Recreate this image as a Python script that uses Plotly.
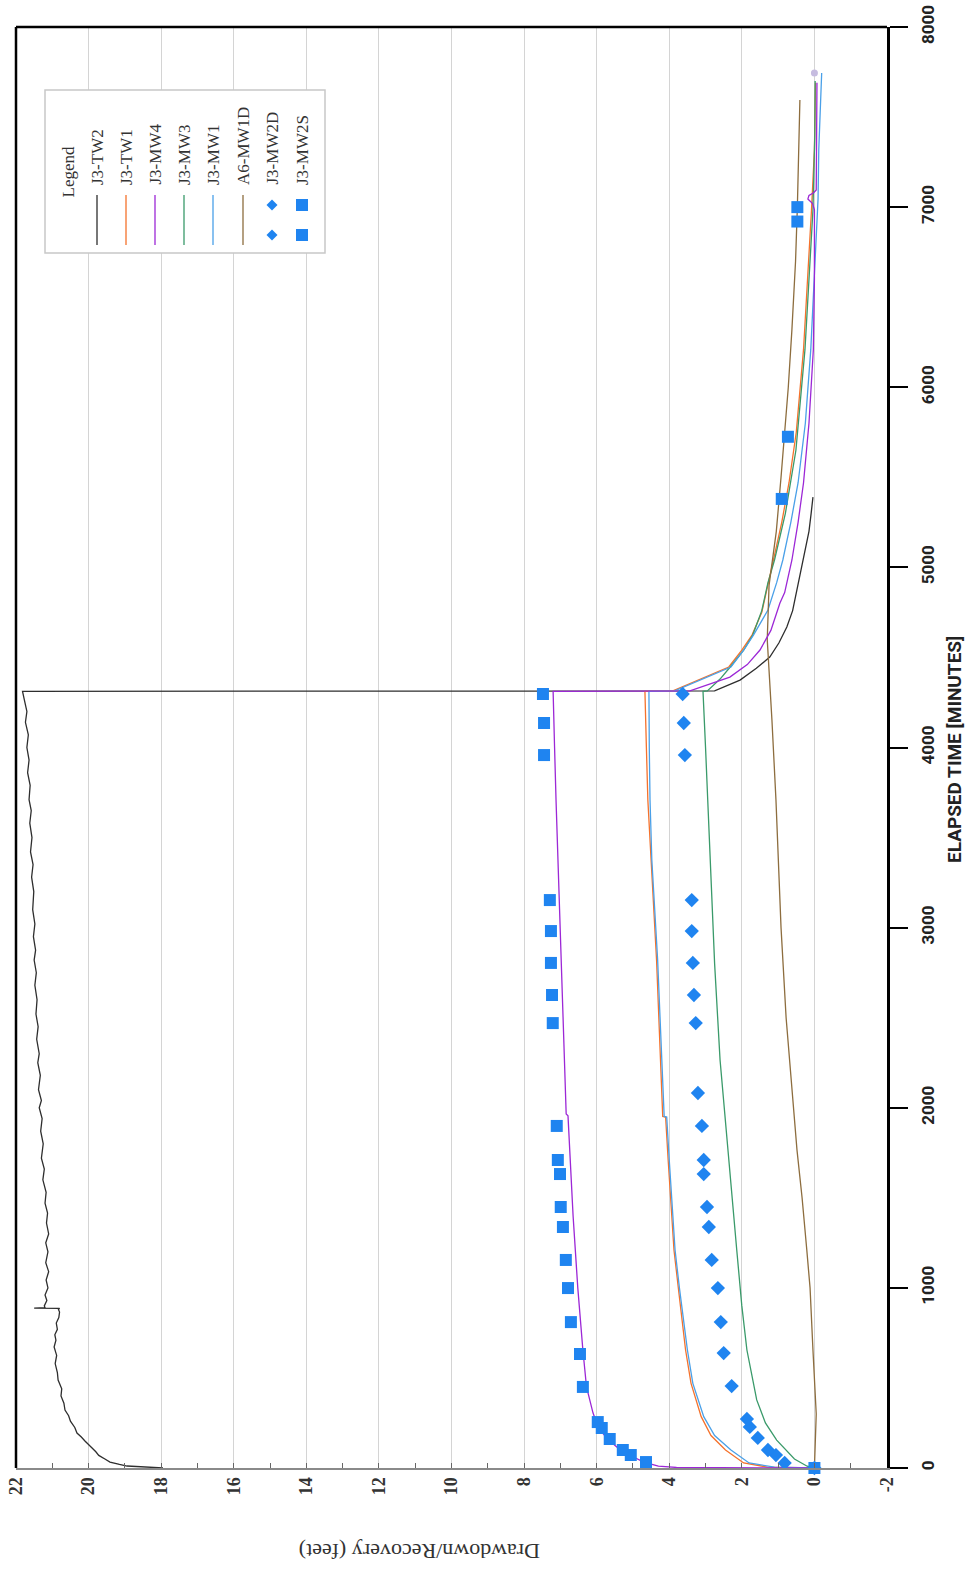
import plotly.graph_objects as go

# ---------------- data (time in minutes, drawdown in feet) ----------------
tw2_t = [0, 5, 11, 20, 33, 50, 70, 90, 110, 130, 150, 172, 194, 225, 260, 290, 322, 360, 400, 440,
         488, 530, 580, 625, 672, 710, 740, 770, 805, 835, 866, 880, 886, 888, 890, 900, 930, 960,
         1000, 1044, 1090, 1140, 1200, 1250, 1300, 1360, 1415, 1470, 1530, 1600, 1660, 1720, 1800,
         1870, 1940, 2000, 2040, 2100, 2180, 2250, 2300, 2380, 2450, 2520, 2600, 2680, 2750, 2820,
         2875, 2950, 3020, 3100, 3200, 3280, 3350, 3420, 3500, 3580, 3650, 3710, 3790, 3860, 3930,
         4000, 4070, 4140, 4200, 4265, 4300, 4312, 4314, 4374, 4440, 4502, 4580, 4669, 4760, 4857,
         4950, 5041, 5120, 5200, 5300, 5390]
tw2_dd = [17.95, 18.5, 18.94, 19.15, 19.41, 19.55, 19.72, 19.8, 19.9, 20.02, 20.1, 20.2, 20.32, 20.38,
          20.5, 20.55, 20.65, 20.68, 20.76, 20.74, 20.84, 20.86, 20.92, 20.88, 20.95, 20.9, 20.93,
          20.86, 20.89, 20.82, 20.8, 20.83, 20.8, 21.5, 21.2, 21.22, 21.15, 21.2, 21.12, 21.17, 21.1,
          21.18, 21.12, 21.18, 21.1, 21.16, 21.13, 21.2, 21.17, 21.26, 21.22, 21.3, 21.25, 21.32,
          21.28, 21.36, 21.3, 21.38, 21.33, 21.4, 21.36, 21.43, 21.39, 21.45, 21.42, 21.48, 21.44,
          21.5, 21.46, 21.52, 21.48, 21.54, 21.51, 21.57, 21.53, 21.6, 21.56, 21.62, 21.58, 21.64,
          21.61, 21.68, 21.64, 21.7, 21.66, 21.74, 21.7, 21.77, 21.8, 21.82, 2.75, 2.05, 1.6, 1.23,
          0.98, 0.76, 0.6, 0.5, 0.4, 0.3, 0.22, 0.15, 0.09, 0.04]

tw1_t = [0, 5, 28, 100, 180, 285, 470, 655, 1000, 1210, 1710, 1948, 1952, 2400, 2820, 3375, 3710,
         4000, 4312, 4314, 4447, 4540, 4624, 4750, 4891, 5041, 5250, 5470, 5750, 6210, 6600, 6985,
         7317, 7690]
tw1_dd = [0, 1.3, 1.95, 2.45, 2.85, 3.12, 3.4, 3.55, 3.75, 3.87, 4.03, 4.1, 4.18, 4.26, 4.35, 4.5,
          4.59, 4.63, 4.67, 3.9, 2.36, 2.0, 1.72, 1.45, 1.3, 1.12, 0.9, 0.7, 0.5, 0.3, 0.18, 0.08,
          0.0, -0.03]

mw4_t = [0, 3, 10, 33, 72, 100, 161, 222, 305, 450, 655, 1000, 1400, 1765, 1955, 1965, 2487, 3000,
         3375, 3710, 4000, 4312, 4314, 4391, 4460, 4541, 4650, 4802, 4860, 5041, 5250, 5470, 5800,
         6207, 6600, 6985, 7020, 7045, 7065, 7080, 7095, 7317, 7690]
mw4_dd = [0, 3.8, 4.3, 4.7, 5.1, 5.35, 5.7, 5.95, 6.1, 6.28, 6.38, 6.52, 6.65, 6.74, 6.79, 6.84,
          6.93, 7.0, 7.07, 7.12, 7.16, 7.2, 3.43, 2.33, 1.85, 1.5, 1.2, 0.95, 0.82, 0.62, 0.45, 0.3,
          0.15, 0.03, 0.0, 0.0, 0.05, 0.18, 0.15, 0.02, -0.05, -0.06, -0.07]

mw3_t = [0, 10, 50, 155, 250, 378, 655, 900, 1210, 1500, 1765, 2265, 2800, 3375, 3710, 4000, 4312,
         4314, 4380, 4447, 4540, 4624, 4760, 4915, 5041, 5300, 5650, 6210, 6600, 6985, 7400, 7700]
mw3_dd = [0, 0.2, 0.55, 1.04, 1.35, 1.59, 1.86, 2.0, 2.14, 2.27, 2.39, 2.6, 2.75, 2.88, 2.94, 3.0,
          3.07, 2.95, 2.6, 2.32, 1.95, 1.7, 1.45, 1.28, 1.1, 0.8, 0.51, 0.26, 0.14, 0.04, -0.01, -0.02]

mw1_t = [0, 5, 28, 100, 180, 285, 470, 655, 1000, 1210, 1710, 1948, 1952, 2400, 2820, 3375, 3710,
         4000, 4312, 4314, 4447, 4540, 4624, 4763, 4915, 5041, 5250, 5470, 5800, 6210, 6600, 7045,
         7317, 7745]
mw1_dd = [0, 1.1, 1.8, 2.3, 2.75, 3.05, 3.35, 3.5, 3.72, 3.84, 4.0, 4.07, 4.14, 4.23, 4.32, 4.48,
          4.53, 4.55, 4.56, 3.85, 2.3, 1.95, 1.68, 1.28, 1.04, 0.87, 0.65, 0.45, 0.25, 0.1, 0.0,
          -0.1, -0.12, -0.2]

a6_t = [0, 300, 655, 1000, 1210, 1500, 1765, 2000, 2500, 3000, 3500, 3710, 4150, 4300, 4600, 4900,
        5200, 5500, 5750, 6000, 6320, 6700, 7000, 7320, 7595]
a6_dd = [0, -0.05, 0.04, 0.12, 0.21, 0.34, 0.48, 0.58, 0.78, 0.92, 1.02, 1.06, 1.17, 1.22, 1.3, 1.25,
         1.05, 0.92, 0.82, 0.72, 0.62, 0.52, 0.47, 0.43, 0.4]

mw2d_t = [0, 28, 72, 100, 167, 228, 272, 455, 638, 810, 999, 1155, 1338, 1449, 1632, 1710, 1899,
          2082, 2470, 2626, 2804, 2981, 3153, 3958, 4136, 4297]
mw2d_dd = [0.0, 0.82, 1.06, 1.28, 1.56, 1.78, 1.86, 2.28, 2.50, 2.58, 2.66, 2.83, 2.91, 2.96, 3.05,
           3.05, 3.10, 3.21, 3.27, 3.32, 3.35, 3.38, 3.38, 3.57, 3.60, 3.63]

mw2s_t = [0, 33, 72, 100, 161, 222, 255, 450, 633, 810, 999, 1155, 1338, 1449, 1632, 1710, 1899,
          2470, 2626, 2804, 2981, 3153, 3958, 4136, 4297, 5380, 5725, 6920, 7000]
mw2s_dd = [0.0, 4.64, 5.06, 5.28, 5.64, 5.86, 5.97, 6.38, 6.46, 6.71, 6.79, 6.85, 6.93, 6.99, 7.01,
           7.07, 7.10, 7.21, 7.23, 7.26, 7.26, 7.29, 7.45, 7.45, 7.48, 0.9, 0.73, 0.47, 0.47]

end_t = [7745]
end_dd = [0.0]

x_ticks = [22, 20, 18, 16, 14, 12, 10, 8, 6, 4, 2, 0, -2]
y_ticks = [0, 1000, 2000, 3000, 4000, 5000, 6000, 7000, 8000]

legend_names = ["J3-TW2", "J3-TW1", "J3-MW4", "J3-MW3", "J3-MW1", "A6-MW1D", "J3-MW2D", "J3-MW2S"]

# ---------------- styles ----------------
C_TW2 = "#2e2e2e"
C_TW1 = "#f5722c"
C_MW4 = "#9c27d6"
C_MW3 = "#3a9a6a"
C_MW1 = "#4aa0e8"
C_A6 = "#8d6d3e"
C_MK = "#1f84f0"
SERIF = "Liberation Serif, Times New Roman, serif"
NARROW = "Roboto, Liberation Sans Narrow, sans-serif"

W, H = 974, 1572
L, R, T, B = 16, 887, 27, 1468  # plot area (page pixels; body margin removed below)


def px(x):  # page pixel -> paper
    return (x - L) / (R - L)


def py(y):
    return (B - y) / (B - T)


fig = go.Figure()

line_series = [
    (tw2_dd, tw2_t, C_TW2, "J3-TW2"),
    (tw1_dd, tw1_t, C_TW1, "J3-TW1"),
    (mw3_dd, mw3_t, C_MW3, "J3-MW3"),
    (mw1_dd, mw1_t, C_MW1, "J3-MW1"),
    (a6_dd, a6_t, C_A6, "A6-MW1D"),
    (mw4_dd, mw4_t, C_MW4, "J3-MW4"),
]
for xd, yd, col, name in line_series:
    fig.add_trace(go.Scatter(x=xd, y=yd, mode="lines", name=name,
                             line=dict(color=col, width=1.3), showlegend=False))

fig.add_trace(go.Scatter(x=end_dd, y=end_t, mode="markers", showlegend=False,
                         marker=dict(color="#c6bce0", size=7), cliponaxis=False))
fig.add_trace(go.Scatter(x=mw2d_dd, y=mw2d_t, mode="markers", name="J3-MW2D", showlegend=False,
                         marker=dict(symbol="diamond", color=C_MK, size=11), cliponaxis=False))
fig.add_trace(go.Scatter(x=mw2s_dd, y=mw2s_t, mode="markers", name="J3-MW2S", showlegend=False,
                         marker=dict(symbol="square", color=C_MK, size=12), cliponaxis=False))

shapes = []
# frame: top and left black borders
shapes.append(dict(type="line", xref="paper", yref="paper", x0=0, x1=1, y0=1, y1=1,
                   line=dict(color="black", width=2.5)))
shapes.append(dict(type="line", xref="paper", yref="paper", x0=0, x1=0, y0=0, y1=1,
                   line=dict(color="black", width=2.5)))

# legend box
shapes.append(dict(type="rect", xref="paper", yref="paper", x0=px(45), x1=px(325), y0=py(253),
                   y1=py(90), line=dict(color="#c8c8c8", width=1.5), fillcolor="white", layer="above"))
leg_x = [97, 126, 155, 184, 213, 243, 272, 302]
leg_cols = [C_TW2, C_TW1, C_MW4, C_MW3, C_MW1, C_A6]
for xc, col in zip(leg_x[:6], leg_cols):
    shapes.append(dict(type="line", xref="paper", yref="paper", x0=px(xc), x1=px(xc), y0=py(245),
                       y1=py(195), line=dict(color=col, width=1.3), layer="above"))
for yc in (205, 235):
    xc = leg_x[6]
    d = 5.5
    path = (f"M {px(xc)} {py(yc - d)} L {px(xc + d)} {py(yc)} L {px(xc)} {py(yc + d)} "
            f"L {px(xc - d)} {py(yc)} Z")
    shapes.append(dict(type="path", xref="paper", yref="paper", path=path, fillcolor=C_MK,
                       line=dict(width=0), layer="above"))
    xc = leg_x[7]
    s = 6
    shapes.append(dict(type="rect", xref="paper", yref="paper", x0=px(xc - s), x1=px(xc + s),
                       y0=py(yc + s), y1=py(yc - s), fillcolor=C_MK, line=dict(width=0),
                       layer="above"))

annotations = []
annotations.append(dict(text="Legend", xref="paper", yref="paper", x=px(68), y=py(200),
                        xanchor="center", yanchor="bottom", textangle=-90, showarrow=False,
                        font=dict(family=SERIF, size=17, color="#333")))
for xc, name in zip(leg_x, legend_names):
    annotations.append(dict(text=name, xref="paper", yref="paper", x=px(xc), y=py(187),
                            xanchor="center", yanchor="bottom", textangle=-90, showarrow=False,
                            font=dict(family=SERIF, size=17, color="#333")))
annotations.append(dict(text="ELAPSED TIME [MINUTES]", xref="paper", yref="paper", x=px(955),
                        y=py(750), xanchor="center", yanchor="middle", textangle=-90,
                        showarrow=False, font=dict(family=NARROW, size=19, color="#222",
                                                   weight="bold")))
annotations.append(dict(text="Drawdown/Recovery (feet)", xref="paper", yref="paper", x=px(420),
                        y=py(1552), xanchor="center", yanchor="middle", textangle=180,
                        showarrow=False, font=dict(family=SERIF, size=22, color="#333")))

fig.update_layout(
    width=W, height=H,
    margin=dict(l=L, r=W - R, t=T, b=H - B, autoexpand=False),
    paper_bgcolor="white", plot_bgcolor="white",
    shapes=shapes, annotations=annotations, showlegend=False,
    xaxis=dict(range=[22, -2], tickvals=x_ticks, ticktext=[str(v) for v in x_ticks],
               automargin=False, ticklabeloverflow="allow",
               showgrid=True, gridcolor="#d4d4d4", gridwidth=1, zeroline=False,
               showline=True, linecolor="#8a8a8a", linewidth=2,
               ticks="inside", ticklen=5, tickwidth=1.2, tickcolor="#666",
               minor=dict(dtick=1, ticks="inside", ticklen=5, tickcolor="#666", showgrid=False),
               tickangle=-90, tickfont=dict(family=SERIF, size=18, color="#333", weight="bold")),
    yaxis=dict(range=[0, 8000], tickvals=y_ticks, side="right", showgrid=False, zeroline=False,
               automargin=False, ticklabeloverflow="allow",
               showline=True, linecolor="black", linewidth=2.5,
               ticks="outside", ticklen=18, tickwidth=2, tickcolor="black",
               tickangle=-90, ticklabelstandoff=6,
               tickfont=dict(family=NARROW, size=17, color="#222", weight="bold")),
)

fig.write_html("out.html", config={"displayModeBar": False},
               post_script="document.body.style.margin='0';document.body.style.overflow='hidden';")
